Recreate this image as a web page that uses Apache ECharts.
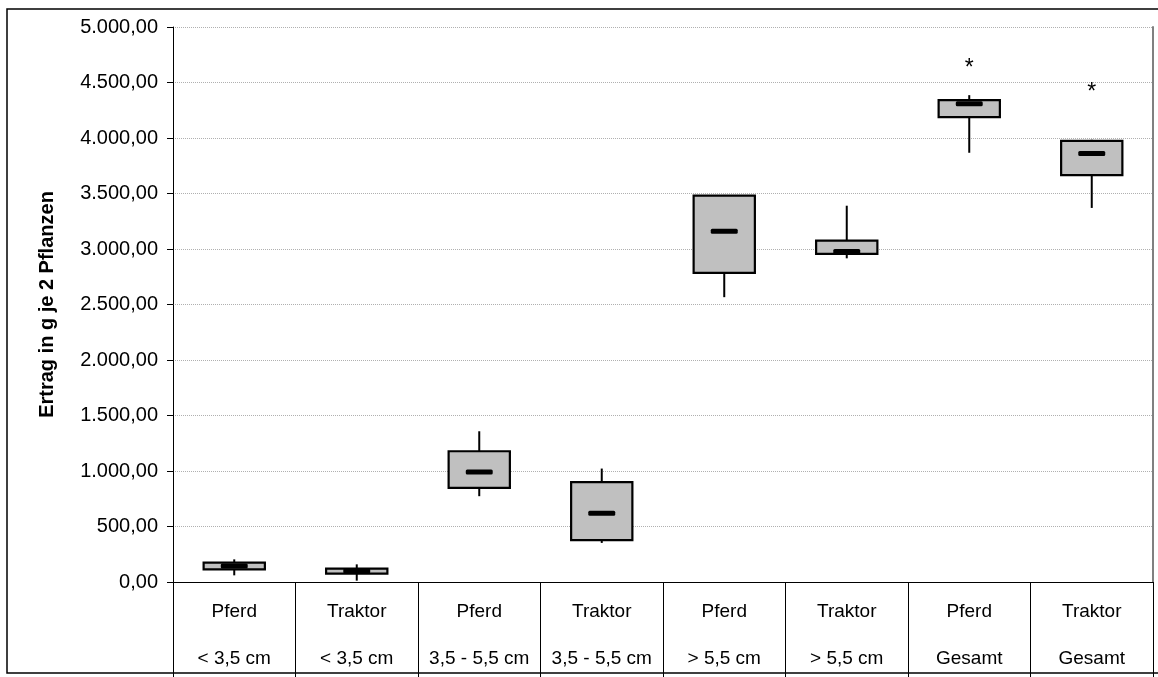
<!DOCTYPE html>
<html>
<head>
<meta charset="utf-8">
<script src="https://cdn.jsdelivr.net/npm/echarts@6/dist/echarts.min.js"></script>
<style>
  html, body { margin: 0; padding: 0; background: #fff; }
  #chart { width: 1158px; height: 677px; }
</style>
</head>
<body>
<div id="chart"></div>
<script>
// Harvest per two plants (g), grouped by draught method and tuber size class
const machines = ['Pferd', 'Traktor', 'Pferd', 'Traktor', 'Pferd', 'Traktor', 'Pferd', 'Traktor'];
const sizeClasses = ['< 3,5 cm', '< 3,5 cm', '3,5 - 5,5 cm', '3,5 - 5,5 cm', '> 5,5 cm', '> 5,5 cm', 'Gesamt', 'Gesamt'];

// Five-number summaries per group
const minimum = [60, 12, 773, 352, 2566, 2916, 3867, 3370];
const quartile1 = [114, 75, 848, 378, 2785, 2956, 4188, 3666];
const median = [144, 99, 992, 620, 3159, 2977, 4308, 3861];
const quartile3 = [174, 120, 1178, 899, 3480, 3075, 4341, 3975];
const maximum = [204, 159, 1358, 1022, 3487, 3390, 4386, 3984];

// Extreme values shown as asterisks: [group index, value]
const extremes = [[6, 4655], [7, 4433]];

const yTicks = { min: 0, max: 5000, step: 500 };

const FONT = '"Liberation Sans", Arial, sans-serif';

function formatDe(v) {
  const parts = v.toFixed(2).split('.');
  const intPart = parts[0].replace(/\B(?=(\d{3})+(?!\d))/g, '.');
  return intPart + ',' + parts[1];
}

const categories = machines.map((m, i) => m + '\n' + sizeClasses[i]);
const boxData = machines.map((_, i) => [i, minimum[i], quartile1[i], median[i], quartile3[i], maximum[i]]);

function renderBox(params, api) {
  const x = api.value(0);
  const pMin = api.coord([x, api.value(1)]);
  const pQ1 = api.coord([x, api.value(2)]);
  const pMed = api.coord([x, api.value(3)]);
  const pQ3 = api.coord([x, api.value(4)]);
  const pMax = api.coord([x, api.value(5)]);
  const band = api.size([1, 0])[0];
  const bw = band * 0.5;
  const mw = band * 0.22;
  const cx = pMed[0];
  const lineStyle = { stroke: '#000', lineWidth: 2 };
  return {
    type: 'group',
    children: [
      { type: 'line', shape: { x1: cx, y1: pQ3[1], x2: cx, y2: pMax[1] }, style: lineStyle },
      { type: 'line', shape: { x1: cx, y1: pQ1[1], x2: cx, y2: pMin[1] }, style: lineStyle },
      {
        type: 'rect',
        shape: { x: cx - bw / 2, y: pQ3[1], width: bw, height: pQ1[1] - pQ3[1] },
        style: { fill: '#c0c0c0', stroke: '#000', lineWidth: 2.2 }
      },
      {
        type: 'rect',
        shape: { x: cx - mw / 2, y: pMed[1] - 2.5, width: mw, height: 5, r: 1.5 },
        style: { fill: '#000' }
      }
    ]
  };
}

function renderExtreme(params, api) {
  const p = api.coord([api.value(0), api.value(1)]);
  return {
    type: 'text',
    x: p[0],
    y: p[1] + 3,
    style: {
      text: '*',
      fontFamily: FONT,
      fontSize: 23,
      fill: '#000',
      align: 'center',
      verticalAlign: 'middle'
    }
  };
}

const chart = echarts.init(document.getElementById('chart'), null, { renderer: 'canvas' });

chart.setOption({
  animation: false,
  backgroundColor: '#fff',
  textStyle: { fontFamily: FONT },
  grid: { left: 173, right: 5, top: 27, bottom: 95, containLabel: false },
  graphic: [
    {
      type: 'rect',
      shape: { x: 7, y: 9, width: 1170, height: 664 },
      style: { fill: 'none', stroke: '#000', lineWidth: 1.5 },
      silent: true
    }
  ],
  xAxis: {
    type: 'category',
    data: categories,
    boundaryGap: true,
    axisLine: { lineStyle: { color: '#000', width: 1 } },
    axisTick: { show: true, interval: 0, length: 95, lineStyle: { color: '#000', width: 1 } },
    axisLabel: {
      interval: 0,
      margin: 6,
      color: '#000',
      formatter: function (v) {
        const parts = v.split('\n');
        return '{a|' + parts[0] + '}\n{b|' + parts[1] + '}';
      },
      rich: {
        a: { fontFamily: FONT, fontSize: 19, lineHeight: 47, color: '#000' },
        b: { fontFamily: FONT, fontSize: 19, lineHeight: 47, color: '#000' }
      }
    },
    splitLine: { show: false }
  },
  yAxis: [
    {
      type: 'value',
      min: yTicks.min,
      max: yTicks.max,
      interval: yTicks.step,
      name: 'Ertrag in g je 2 Pflanzen',
      nameLocation: 'middle',
      nameRotate: 90,
      nameGap: 116,
      nameTextStyle: { fontFamily: FONT, fontSize: 20, fontWeight: 'bold', color: '#000' },
      axisLine: { show: true, lineStyle: { color: '#000', width: 1 } },
      axisTick: { show: true, length: 6, lineStyle: { color: '#000' } },
      axisLabel: { color: '#000', fontSize: 20, fontFamily: FONT, margin: 15, formatter: formatDe },
      splitLine: { show: true, lineStyle: { color: '#b0b0b0', type: 'dotted', width: 1 } }
    },
    {
      type: 'value',
      position: 'right',
      min: yTicks.min,
      max: yTicks.max,
      interval: yTicks.step,
      axisLine: { show: true, lineStyle: { color: '#808080', width: 2 } },
      axisTick: { show: false },
      axisLabel: { show: false },
      splitLine: { show: false }
    }
  ],
  series: [
    {
      type: 'custom',
      name: 'Ertrag',
      renderItem: renderBox,
      data: boxData,
      encode: { x: 0, y: [1, 2, 3, 4, 5] },
      clip: false,
      z: 3
    },
    {
      type: 'custom',
      name: 'Extremwerte',
      renderItem: renderExtreme,
      data: extremes,
      encode: { x: 0, y: 1 },
      clip: false,
      z: 4
    }
  ]
});
</script>
</body>
</html>
